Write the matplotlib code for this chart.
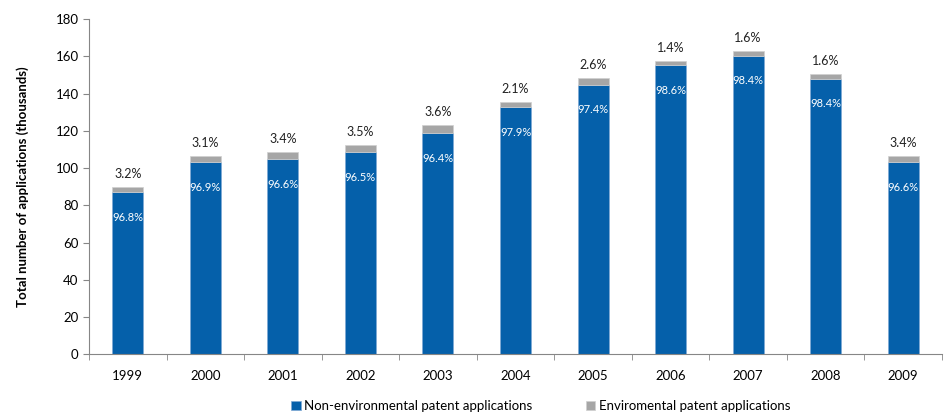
import numpy as np
import matplotlib.pyplot as plt

plt.switch_backend('Agg')
plt.rcParams['font.family'] = ['Lato', 'DejaVu Sans']

# data (thousands of applications)
years = ['1999', '2000', '2001', '2002', '2003', '2004', '2005', '2006', '2007', '2008', '2009']
totals = [90.0, 106.3, 108.4, 112.4, 123.1, 135.6, 148.5, 157.4, 162.8, 150.3, 106.6]
env_pct = [3.2, 3.1, 3.4, 3.5, 3.6, 2.1, 2.6, 1.4, 1.6, 1.6, 3.4]
non_env_pct = [96.8, 96.9, 96.6, 96.5, 96.4, 97.9, 97.4, 98.6, 98.4, 98.4, 96.6]

totals = np.array(totals)
env = totals * np.array(env_pct) / 100
non_env = totals - env

blue = '#0560AA'
gray = '#A6A6A6'

fig = plt.figure(figsize=(9.47, 4.12), dpi=100)
ax = fig.add_axes([89 / 947, (412 - 354.3) / 412, (942 - 89) / 947, (354.3 - 19) / 412])

x = np.arange(len(years))
ax.bar(x, non_env, width=0.4, color=blue, edgecolor='#7fa9d4', linewidth=0.5,
       label='Non-environmental patent applications')
ax.bar(x, env, width=0.4, bottom=non_env, color=gray, edgecolor='#d0d0d0', linewidth=0.5,
       label='Enviromental patent applications')

for i in range(len(years)):
    ax.annotate(f'{env_pct[i]:.1f}%', (x[i], totals[i]), xytext=(0, 5), textcoords='offset points',
                ha='center', va='bottom', fontsize=9, color='#222222')
    ax.annotate(f'{non_env_pct[i]:.1f}%', (x[i], non_env[i]), xytext=(0, -18), textcoords='offset points',
                ha='center', va='center', fontsize=8, color='white')

ax.set_xlim(-0.5, len(years) - 0.5)
ax.set_ylim(0, 180)
ax.set_yticks(np.arange(0, 181, 20))
ax.set_xticks(x)
ax.set_xticklabels(years, fontsize=9.5)
ax.set_xticks(np.arange(-0.5, len(years), 1), minor=True)
ax.tick_params(axis='x', which='major', length=0, pad=11)
ax.tick_params(axis='x', which='minor', length=4, color='#868686', direction='out')
ax.tick_params(axis='y', labelsize=9.5, length=4, color='#868686', direction='out')
for side in ['top', 'right']:
    ax.spines[side].set_visible(False)
for side in ['left', 'bottom']:
    ax.spines[side].set_color('#868686')
ax.set_ylabel('Total number of applications (thousands)', fontsize=9.5, fontweight='bold', labelpad=19)

fig.legend(loc='lower center', bbox_to_anchor=(0.571, -0.03), ncol=2, frameon=False, fontsize=9.5,
           handlelength=0.7, handleheight=0.7, handletextpad=0.3, columnspacing=4)

fig.savefig('out.png', dpi=100)
